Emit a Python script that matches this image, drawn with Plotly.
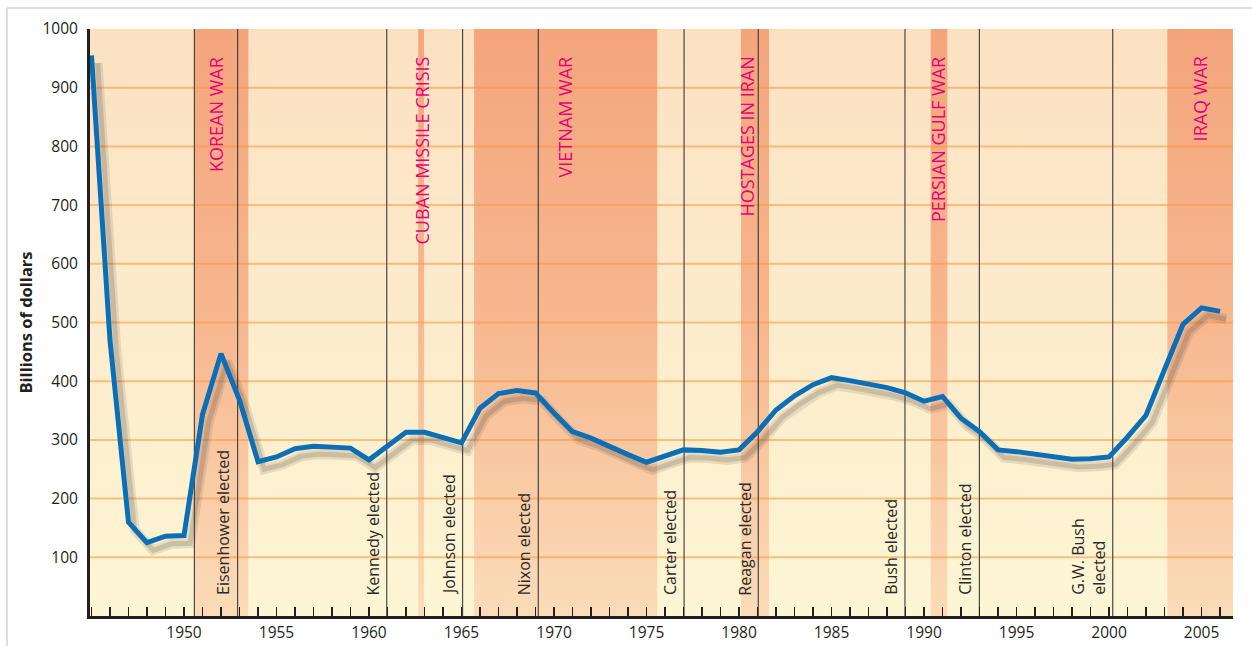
import plotly.graph_objects as go

# ---------------- data ----------------
years = list(range(1945, 2007))
spending = [955, 470, 160, 125, 136, 137, 343, 447, 368, 263,
            271, 285, 289, 287, 286, 266, 290, 313, 313, 305,
            295, 354, 379, 384, 380, 346, 314, 303, 288, 275,
            262, 273, 283, 282, 279, 283, 314, 351, 375, 394,
            406, 401, 396, 389, 380, 366, 374, 337, 314, 283,
            280, 275, 271, 267, 268, 271, 305, 342, 420, 497,
            525, 519]

war_names = ["KOREAN WAR", "CUBAN MISSILE CRISIS", "VIETNAM WAR",
             "HOSTAGES IN IRAN", "PERSIAN GULF WAR", "IRAQ WAR"]
war_start = [1950.56, 1962.66, 1965.68, 1980.11, 1990.36, 2003.15]
war_end = [1953.48, 1962.97, 1975.58, 1981.62, 1991.26, 2006.70]
war_label_x = [1951.77, 1962.85, 1970.60, 1980.42, 1990.79, 2004.92]

event_lines = [1950.56, 1952.90, 1960.96, 1965.06, 1969.15, 1977.03,
               1981.04, 1988.97, 1992.99, 2000.20]

election_names = ["Eisenhower elected", "Kennedy elected", "Johnson elected",
                  "Nixon elected", "Carter elected", "Reagan elected",
                  "Bush elected", "Clinton elected", "G.W. Bush<br>elected"]
election_label_x = [1952.12, 1960.23, 1964.29, 1968.38, 1976.23, 1980.32,
                    1988.25, 1992.22, 1998.92]

y_ticks = [100, 200, 300, 400, 500, 600, 700, 800, 900, 1000]
x_ticks = [1950, 1955, 1960, 1965, 1970, 1975, 1980, 1985, 1990, 1995, 2000, 2005]

x_range = [1944.92, 2006.70]
y_range = [0, 1000]

FONT = "Open Sans"

fig = go.Figure()

# background gradient
fig.add_trace(go.Scatter(
    x=[x_range[0], x_range[1], x_range[1], x_range[0], x_range[0]],
    y=[y_range[0], y_range[0], y_range[1], y_range[1], y_range[0]],
    mode="lines", line=dict(width=0), fill="toself",
    fillgradient=dict(type="vertical", start=0, stop=1000,
                      colorscale=[[0, "#fdf6d4"], [1, "#fbe1c2"]]),
    hoverinfo="skip", showlegend=False))

# war / crisis bands
for s, e in zip(war_start, war_end):
    fig.add_trace(go.Scatter(
        x=[s, e, e, s, s], y=[0, 0, 1000, 1000, 0],
        mode="lines", line=dict(width=0), fill="toself",
        fillgradient=dict(type="vertical", start=0, stop=1000,
                          colorscale=[[0, "#fbdcb8"], [0.5, "#f7b78f"], [1, "#f4a57c"]]),
        hoverinfo="skip", showlegend=False))

# horizontal grid lines
gx, gy = [], []
for v in y_ticks[:-1]:
    gx += [x_range[0], x_range[1], None]
    gy += [v, v, None]
fig.add_trace(go.Scatter(x=gx, y=gy, mode="lines",
                         line=dict(color="rgba(248,150,60,0.55)", width=2),
                         hoverinfo="skip", showlegend=False))

# vertical event lines
vx, vy = [], []
for v in event_lines:
    vx += [v, v, None]
    vy += [0, 1000, None]
fig.add_trace(go.Scatter(x=vx, y=vy, mode="lines",
                         line=dict(color="#3a3a3a", width=1.1),
                         hoverinfo="skip", showlegend=False))

# shadow of the line
sx = [y + 0.33 for y in years]
sy = [v - 13 for v in spending]
fig.add_trace(go.Scatter(x=sx, y=sy, mode="lines",
                         line=dict(color="rgba(70,60,50,0.12)", width=10),
                         hoverinfo="skip", showlegend=False))
fig.add_trace(go.Scatter(x=sx, y=sy, mode="lines",
                         line=dict(color="rgba(70,60,50,0.18)", width=5),
                         hoverinfo="skip", showlegend=False))

# main line
fig.add_trace(go.Scatter(x=years, y=spending, mode="lines",
                         line=dict(color="#0b6fb8", width=5),
                         hoverinfo="skip", showlegend=False))

annotations = []
for name, x in zip(war_names, war_label_x):
    annotations.append(dict(x=x, y=956, xref="x", yref="y", text=name,
                            showarrow=False, textangle=-90,
                            xanchor="center", yanchor="top",
                            font=dict(family=FONT, size=18, color="#e6007e")))
for name, x in zip(election_names, election_label_x):
    annotations.append(dict(x=x, y=32, xref="x", yref="y", text=name,
                            showarrow=False, textangle=-90, align="left",
                            xanchor="center", yanchor="bottom",
                            font=dict(family=FONT, size=16, color="#2a2a2a")))

shapes = [
    dict(type="line", xref="paper", yref="paper",
         x0=-0.0726, x1=-0.0726, y0=1.0358, y1=-0.06,
         line=dict(color="#d4d4d4", width=1.5)),
    dict(type="line", xref="paper", yref="paper",
         x0=-0.0726, x1=1.02, y0=1.0358, y1=1.0358,
         line=dict(color="#d4d4d4", width=1.5)),
]

fig.update_layout(
    width=1252, height=646,
    margin=dict(l=90, r=19, t=29, b=30, autoexpand=False),
    paper_bgcolor="white", plot_bgcolor="white",
    font=dict(family=FONT, color="#231f20"),
    annotations=annotations, shapes=shapes,
    showlegend=False, hovermode=False,
    xaxis=dict(range=x_range, showgrid=False, zeroline=False, automargin=False,
               showline=True, linecolor="#231f20", linewidth=3,
               tickmode="array", tickvals=x_ticks,
               ticks="inside", ticklen=9, tickwidth=1.3, tickcolor="#231f20",
               minor=dict(dtick=1, tick0=1945, ticks="inside", ticklen=9,
                          tickwidth=1.3, tickcolor="#231f20"),
               tickfont=dict(family=FONT, size=15.5, color="#231f20")),
    yaxis=dict(range=y_range, showgrid=False, zeroline=False, automargin=False,
               showline=True, linecolor="#231f20", linewidth=3,
               tickmode="array", tickvals=y_ticks, ticks="",
               ticklabelstandoff=6,
               tickfont=dict(family=FONT, size=15.5, color="#231f20"),
               title=dict(text="<b>Billions of dollars</b>", standoff=6,
                          font=dict(family=FONT, size=16.5, color="#231f20"))),
)

fig.write_html("out.html",
               config={"displayModeBar": False, "staticPlot": True},
               post_script="document.body.style.margin='0';document.body.style.overflow='hidden';")
